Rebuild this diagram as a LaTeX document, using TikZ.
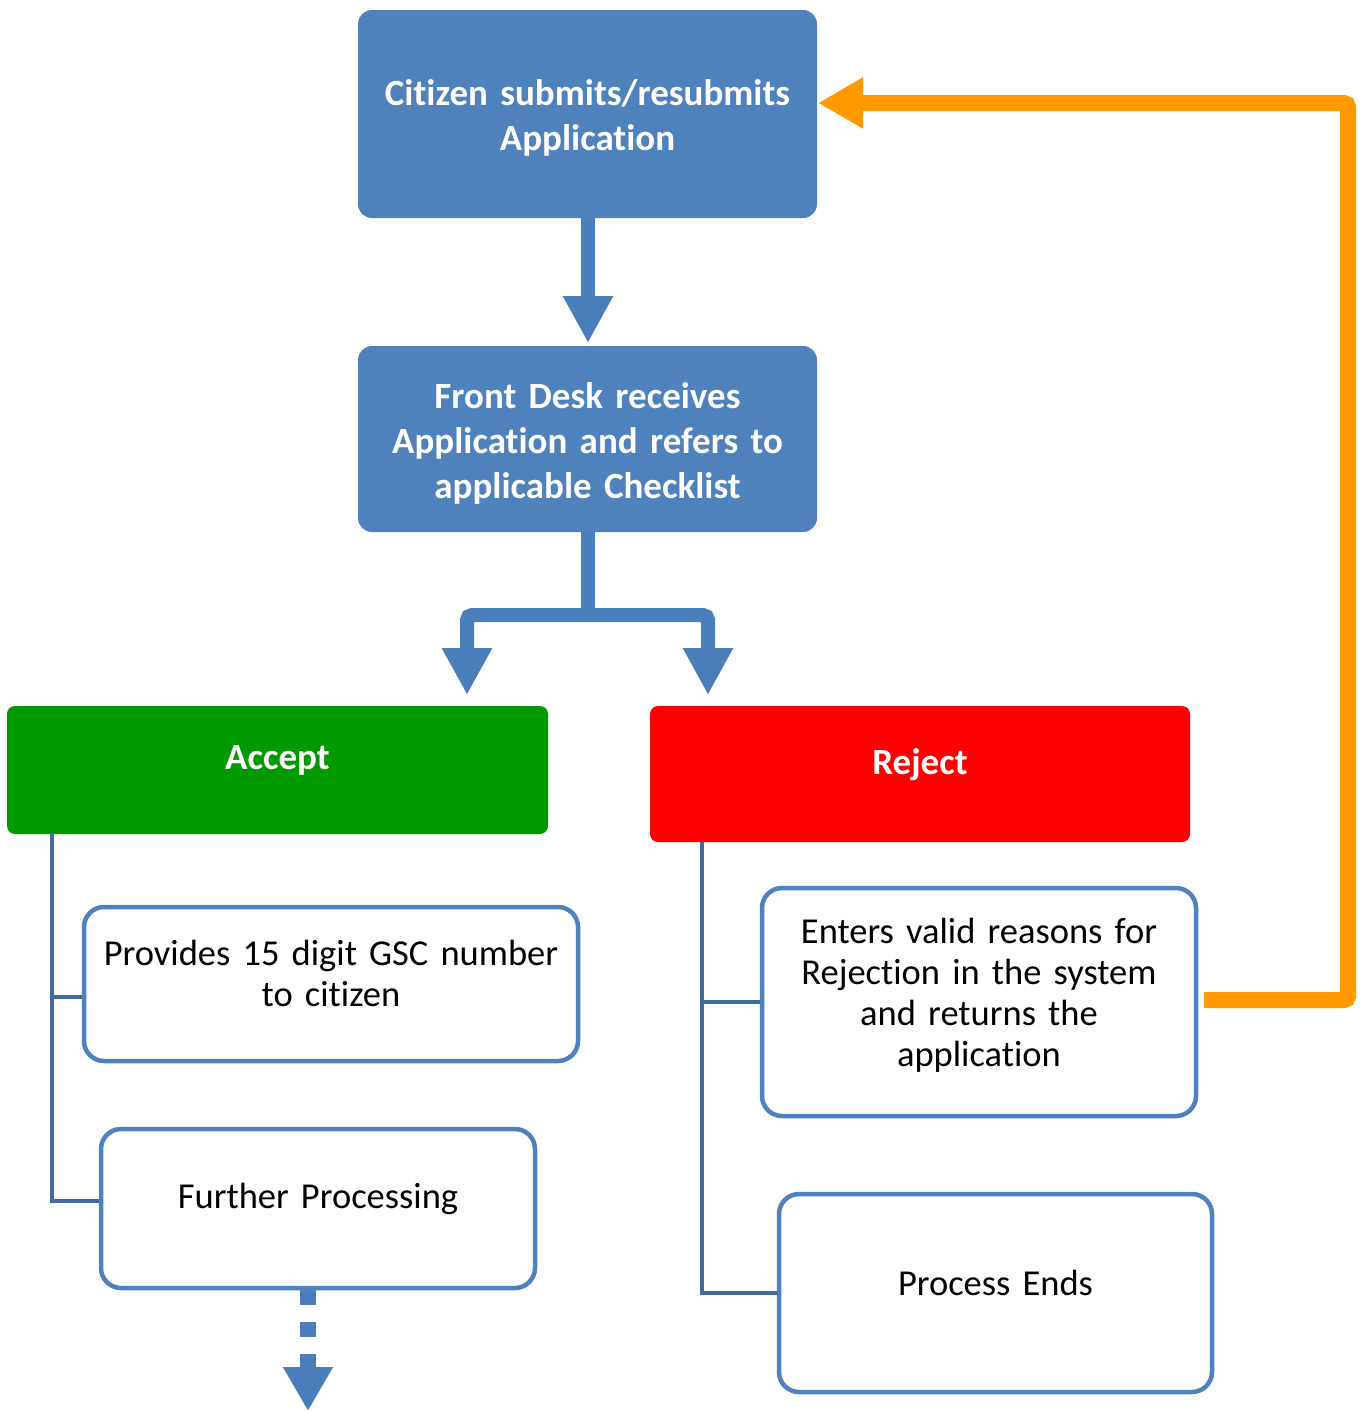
\documentclass[tikz,border=0pt]{standalone}
\usepackage{fontspec}
\setmainfont{Carlito}[Ligatures=NoCommon]
\usetikzlibrary{arrows.meta}
\definecolor{boxblue}{HTML}{4F81BD}
\definecolor{arrowblue}{HTML}{4A7EBB}
\definecolor{linkblue}{HTML}{41699C}
\definecolor{acceptgreen}{HTML}{009900}
\definecolor{rejectred}{HTML}{FF0000}
\definecolor{looporange}{HTML}{FF9900}
\begin{document}
\begin{tikzpicture}[x=1pt,y=-1pt,
  solidbox/.style={inner sep=0pt, rounded corners=14pt},
  bluebox/.style={solidbox, fill=boxblue, minimum width=459pt},
  colbox/.style={solidbox, rounded corners=8pt},
  whitebox/.style={draw=boxblue, line width=4.5pt, fill=white, rounded corners=20pt, inner sep=0pt},
  boldtxt/.style={anchor=base, text=white, text width=450pt, align=center, inner sep=0pt,
    font=\fontsize{37}{45}\selectfont\bfseries},
  plaintxt/.style={anchor=base, text=black, text width=490pt, align=center, inner sep=0pt,
    font=\fontsize{36.5}{41}\selectfont},
  bigarrow/.style={draw=arrowblue, line width=14pt,
    -{Triangle[width=47pt 0 0, length=47pt 0 0]}},
  bigshaft/.style={draw=arrowblue, line width=14pt},
  dasharrow/.style={draw=arrowblue, line width=16pt, dash pattern=on 15pt off 17pt,
    -{Triangle[width=47pt 0 0, length=44pt 0 0]}},
  looparrow/.style={draw=looporange, line width=16pt, line join=miter,
    -{Triangle[width=48pt 0 0, length=45pt 0 0]}},
  link/.style={draw=linkblue, line width=4pt}
]
\useasboundingbox (0,0) rectangle (1360,1411);

% top boxes
\node[bluebox, minimum height=208pt] (submit) at (587.5,114) {};
\node[boldtxt] (submitt) at (587.5,105) {Citizen submits/resubmits\\Application};
\node[bluebox, minimum height=186pt] (check) at (587.5,439) {};
\node[boldtxt] (checkt) at (587.5,408) {Front Desk receives\\Application and refers to\\applicable Checklist};

% accept / reject
\node[colbox, fill=acceptgreen, minimum width=541pt, minimum height=128pt] (accept) at (277.5,770) {};
\node[boldtxt] (acceptt) at (277.5,769) {Accept};
\node[colbox, fill=rejectred, minimum width=540pt, minimum height=136pt] (reject) at (920,774) {};
\node[boldtxt] (rejectt) at (920,774) {Reject};

% white boxes
\node[whitebox, minimum width=494pt, minimum height=154pt] (provides) at (331,984) {};
\node[plaintxt] (providest) at (331,965) {Provides 15 digit GSC number\\to citizen};
\node[whitebox, minimum width=434pt, minimum height=159pt] (further) at (318,1208.5) {};
\node[plaintxt] (furthert) at (318,1208) {Further Processing};
\node[whitebox, minimum width=434pt, minimum height=228pt] (enters) at (979,1002) {};
\node[plaintxt] (enterst) at (979,943) {Enters valid reasons for\\Rejection in the system\\and returns the\\application};
\node[whitebox, minimum width=433pt, minimum height=198pt] (ends) at (995.5,1293) {};
\node[plaintxt] (endst) at (995.5,1295) {Process Ends};

% main arrows
\coordinate (checktip) at (588,343);
\draw[bigarrow] (submit.south -| checktip) -- (checktip);
\coordinate (split) at (588,615);
\coordinate (acctip) at (467,695);
\coordinate (rejtip) at (708,695);
\draw[bigshaft] (check.south -| split) -- (split);
\draw[bigarrow, rounded corners=5pt] (split) -| (acctip);
\draw[bigarrow, rounded corners=5pt] (split) -| (rejtip);

% tree links
\coordinate (accroot) at ([xshift=45pt]accept.south west);
\draw[link] (accroot) |- ([yshift=-13pt]provides.west);
\draw[link] (accroot) |- ([yshift=8pt]further.west);
\coordinate (rejroot) at ([xshift=52pt]reject.south west);
\draw[link] (rejroot) |- (enters.west);
\draw[link] (rejroot) |- (ends.west);

% dashed continuation
\coordinate (fend) at (308,1411);
\draw[dasharrow] (further.south -| fend) -- (fend);

% loop back
\coordinate (loopstart) at (1204,1000);
\coordinate (loopcorner) at (1348,1000);
\coordinate (loopin) at (818,103);
\draw[looparrow, rounded corners=4pt] (loopstart) -- (loopcorner) |- (loopin);
\end{tikzpicture}
\end{document}
